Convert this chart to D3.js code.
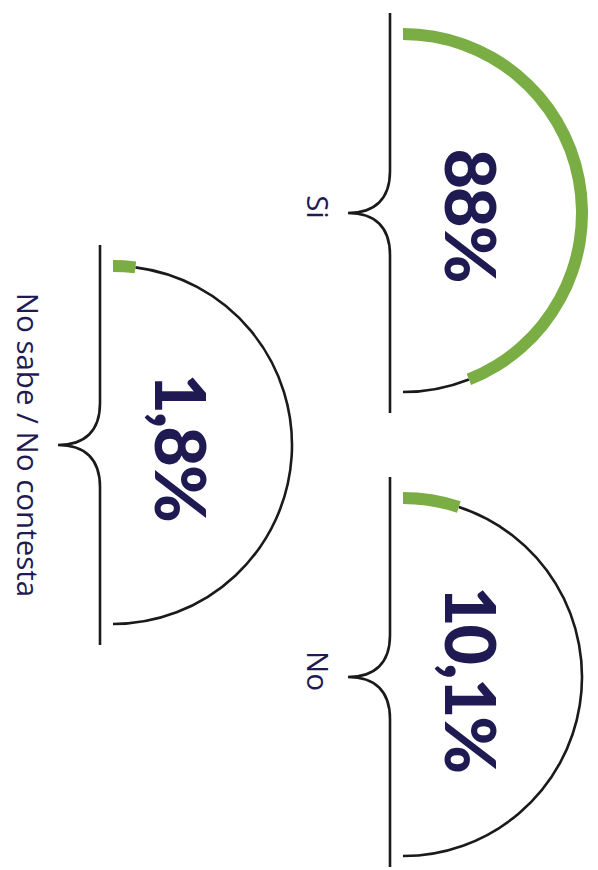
<!DOCTYPE html>
<html lang="es">
<head>
<meta charset="utf-8">
<script src="https://cdn.jsdelivr.net/npm/d3@7"></script>
<style>
    body { margin: 0; background: #ffffff; }
    .label { font-family: "Open Sans", sans-serif; font-weight: 400; fill: #1f1b52; }
    .value { font-family: Lato, sans-serif; font-weight: 900; fill: #1f1b52; letter-spacing: -2px; }
</style>
</head>
<body>
<script type="text/javascript">

    var svgWidth = 598;
    var svgHeight = 870;

    /* data */
    var categories = ["Si", "No", "No sabe / No contesta"];
    var values = [88, 10.1, 1.8];
    var valueLabels = ["88%", "10,1%", "1,8%"];

    /* gauge centres (the chart is turned 90 degrees) */
    var centers = [[403, 213], [403, 677], [113, 445]];

    var radius = 179;
    var band = 12;
    var minSweep = 4; // smallest visible green piece, in %

    var svg = d3.select("body").append("svg")
            .attr("width", svgWidth)
            .attr("height", svgHeight);

    /* percent -> angle, from top going clockwise round the right side */
    var angle = d3.scaleLinear()
            .domain([0, 100])
            .range([0, Math.PI]);

    var greenArc = d3.arc()
            .innerRadius(radius - band / 2)
            .outerRadius(radius + band / 2)
            .startAngle(0)
            .endAngle(function(d) { return angle(Math.max(d, minSweep)); });

    function thinArc(from) {
        var p = d3.path();
        p.arc(0, 0, radius, from - Math.PI / 2, Math.PI / 2);
        return p.toString();
    }

    /* brace: vertical line with a point to the left */
    function brace(top, mid, bottom) {
        var x = -13, tip = -55;
        return "M" + x + "," + top +
                "V" + (mid - 42) +
                "C" + x + "," + (mid - 14) + " " + (x - 15) + "," + mid + " " + tip + "," + mid +
                "C" + (x - 15) + "," + mid + " " + x + "," + (mid + 14) + " " + x + "," + (mid + 42) +
                "V" + bottom;
    }

    var gauge = svg.selectAll("g.gauge")
            .data(values)
            .enter()
            .append("g")
            .attr("class", "gauge")
            .attr("transform", function(d, i) {
                return "translate(" + centers[i][0] + "," + centers[i][1] + ")";
            });

    gauge.append("path")
            .attr("d", function(d) { return thinArc(angle(Math.max(d, minSweep))); })
            .style("fill", "none")
            .style("stroke", "#1a1a1a")
            .style("stroke-width", 2.6);

    gauge.append("path")
            .attr("d", function(d) { return greenArc(d); })
            .style("fill", "#7aad43");

    gauge.append("path")
            .attr("d", function(d, i) { return brace(-200, 0, i == 1 ? 190 : 200); })
            .style("fill", "none")
            .style("stroke", "#1a1a1a")
            .style("stroke-width", 2.6);

    /* big numbers */
    gauge.append("text")
            .attr("class", "value")
            .attr("transform", "translate(42,2) rotate(90)")
            .attr("text-anchor", "middle")
            .style("font-size", "70px")
            .text(function(d, i) { return valueLabels[i]; });

    /* category labels */
    gauge.append("text")
            .attr("class", "label")
            .attr("transform", function(d, i) {
                return "translate(-96," + (i == 2 ? 0 : -6) + ") rotate(90)";
            })
            .attr("text-anchor", "middle")
            .style("font-size", "29.5px")
            .text(function(d, i) { return categories[i]; });

</script>
</body>
</html>
